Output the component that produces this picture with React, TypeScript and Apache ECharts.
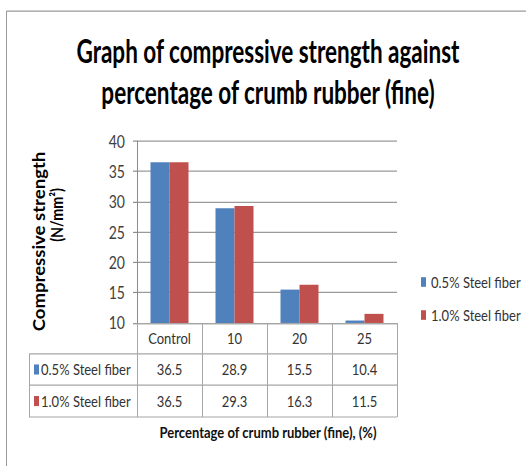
import React, { useEffect, useRef } from "react";
import * as echarts from "echarts";

// ---- data ----
const titleLines = ["Graph of compressive strength against", "percentage of crumb rubber (fine)"];
const categories = ["Control", "10", "20", "25"];
const seriesNames = ["0.5% Steel fiber", "1.0% Steel fiber"];
const steel05 = [36.5, 28.9, 15.5, 10.4];
const steel10 = [36.5, 29.3, 16.3, 11.5];
const yAxisTitleLines = ["Compressive strength", "(N/mm²)"];
const xAxisTitle = "Percentage of crumb rubber (fine), (%)";
const yMin = 10;
const yMax = 40;
const yStep = 5;

// ---- layout (unscaled coordinates; the chart is stretched vertically) ----
const W = 526;
const H = 388;
const S = 466 / H;
const FONT = "Lato, 'Open Sans', sans-serif";
const colors = ["#4F81BD", "#C0504D"];
const gridLeft = 137;
const gridRight = 397;
const gridTop = 117.4;
const gridBottomY = 268.9;
const rowLines = [294.7, 320.6, 347.2];
const tableLeft = 29;
const lineColor = "#a6a6a6";

export default function App() {
  const ref = useRef<HTMLDivElement>(null);

  useEffect(() => {
    if (!ref.current) return;
    const chart = echarts.init(ref.current, undefined, { renderer: "svg" });

    const rowCenters = [
      (gridBottomY + rowLines[0]) / 2,
      (rowLines[0] + rowLines[1]) / 2,
      (rowLines[1] + rowLines[2]) / 2,
    ];
    const valueRows = [steel05, steel10];

    const graphics: any[] = [];
    // frame
    graphics.push({ type: "line", shape: { x1: 6.5, y1: 9.2, x2: W, y2: 9.2 }, style: { stroke: "#9a9a9a", lineWidth: 1 } });
    graphics.push({ type: "line", shape: { x1: 6.5, y1: 9.2, x2: 6.5, y2: H }, style: { stroke: "#9a9a9a", lineWidth: 1 } });
    // title
    const titleY = [42.1, 76.3];
    titleLines.forEach((t, i) => {
      graphics.push({
        type: "text",
        x: 268,
        y: titleY[i],
        scaleY: 1.2,
        style: {
          text: t,
          fontSize: 22.5,
          fontWeight: "bold",
          fontFamily: FONT,
          fill: "#000",
          align: "center",
          verticalAlign: "middle",
          textAlign: "center",
          textVerticalAlign: "middle",
        },
      });
    });
    // y axis title (rotated)
    graphics.push({
      type: "text",
      x: 38.5,
      y: 201.1,
      rotation: Math.PI / 2,
      scaleX: 0.91,
      style: {
        text: yAxisTitleLines[0],
        fontSize: 17,
        fontWeight: "bold",
        fontFamily: FONT,
        fill: "#000",
        align: "center",
        verticalAlign: "middle",
        textAlign: "center",
        textVerticalAlign: "middle",
      },
    });
    graphics.push({
      type: "text",
      x: 56.5,
      y: 179,
      rotation: Math.PI / 2,
      scaleX: 0.72,
      style: {
        text: yAxisTitleLines[1],
        fontSize: 16.5,
        fontWeight: "bold",
        fontFamily: FONT,
        fill: "#000",
        align: "center",
        verticalAlign: "middle",
        textAlign: "center",
        textVerticalAlign: "middle",
      },
    });
    // x axis title
    graphics.push({
      type: "text",
      x: 268,
      y: 360.1,
      style: {
        text: xAxisTitle,
        fontSize: 13,
        fontWeight: "bold",
        fontFamily: FONT,
        fill: "#111",
        align: "center",
        verticalAlign: "middle",
        textAlign: "center",
        textVerticalAlign: "middle",
      },
    });
    // data table borders
    rowLines.forEach((y) => {
      graphics.push({ type: "line", shape: { x1: tableLeft, y1: y, x2: gridRight, y2: y }, style: { stroke: lineColor, lineWidth: 1 } });
    });
    graphics.push({
      type: "line",
      shape: { x1: tableLeft + 0.5, y1: rowLines[0], x2: tableLeft + 0.5, y2: rowLines[2] },
      style: { stroke: lineColor, lineWidth: 1 },
    });
    // row headers (legend keys + series names)
    seriesNames.forEach((n, i) => {
      const cy = rowCenters[i + 1];
      graphics.push({ type: "rect", shape: { x: 34, y: cy - 4.2, width: 5, height: 8.4 }, style: { fill: colors[i] } });
      graphics.push({
        type: "text",
        x: 41,
        y: cy,
        style: {
          text: n,
          fontSize: 13,
          fontFamily: FONT,
          fill: "#333",
          align: "left",
          verticalAlign: "middle",
          textAlign: "left",
          textVerticalAlign: "middle",
        },
      });
    });

    const tableAxis = (idx: number) => ({
      type: "category",
      gridIndex: 0,
      position: "bottom",
      offset: rowLines[idx] - gridBottomY,
      data: valueRows[idx].map((v) => v.toFixed(1)),
      axisLine: { show: false, onZero: false },
      axisTick: { show: false },
      splitLine: { show: false },
      axisLabel: {
        interval: 0,
        fontSize: 13,
        fontFamily: FONT,
        color: "#333",
        verticalAlign: "middle",
        margin: rowCenters[idx + 1] - rowLines[idx],
      },
    });

    chart.setOption({
      animation: false,
      backgroundColor: "#ffffff",
      textStyle: { fontFamily: FONT },
      grid: {
        left: gridLeft,
        right: W - gridRight,
        top: gridTop,
        bottom: H - gridBottomY,
        containLabel: false,
      },
      legend: {
        orient: "vertical",
        left: 416,
        top: 223.3,
        itemWidth: 5,
        itemHeight: 8,
        itemGap: 14.5,
        icon: "rect",
        data: seriesNames,
        textStyle: { fontSize: 13, color: "#333", lineHeight: 13, fontFamily: FONT },
      },
      xAxis: [
        {
          type: "category",
          data: categories,
          position: "bottom",
          axisLine: { show: true, onZero: false, lineStyle: { color: lineColor } },
          axisTick: {
            show: true,
            interval: 0,
            length: rowLines[2] - gridBottomY,
            lineStyle: { color: lineColor },
          },
          splitLine: { show: false },
          axisLabel: {
            interval: 0,
            fontSize: 13,
            fontFamily: FONT,
            color: "#333",
            verticalAlign: "middle",
            margin: rowCenters[0] - gridBottomY,
          },
        },
        tableAxis(0),
        tableAxis(1),
      ],
      yAxis: {
        type: "value",
        min: yMin,
        max: yMax,
        interval: yStep,
        axisLine: { show: true, lineStyle: { color: "#8c8c8c" } },
        axisTick: { show: true, length: 4, lineStyle: { color: "#8c8c8c" } },
        axisLabel: { fontSize: 14, color: "#404040", margin: 12, fontFamily: FONT },
        splitLine: { show: true, lineStyle: { color: "#9a9a9a" } },
      },
      series: [
        {
          type: "bar",
          name: seriesNames[0],
          data: steel05,
          barWidth: 19,
          barGap: "0%",
          itemStyle: { color: colors[0] },
        },
        {
          type: "bar",
          name: seriesNames[1],
          data: steel10,
          barWidth: 19,
          barGap: "0%",
          itemStyle: { color: colors[1] },
        },
      ],
      graphic: graphics,
    });

    return () => {
      chart.dispose();
    };
  }, []);

  return (
    <div
      style={{
        position: "absolute",
        left: 0,
        top: 0,
        width: W,
        height: 466,
        overflow: "hidden",
        background: "#fff",
      }}
    >
      <div
        ref={ref}
        style={{
          width: W,
          height: H,
          transform: `scaleY(${S})`,
          transformOrigin: "0 0",
        }}
      />
    </div>
  );
}
